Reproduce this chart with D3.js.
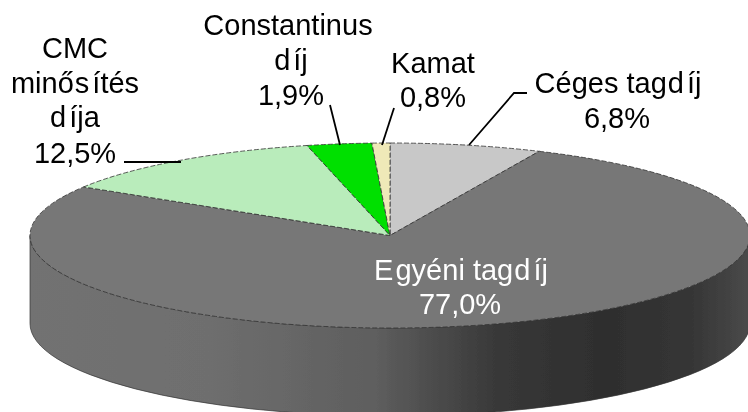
<!DOCTYPE html>
<html>
<head>
<meta charset="utf-8">
<script src="https://d3js.org/d3.v7.min.js"></script>
<style>
  html, body { margin: 0; padding: 0; background: #fff; }
  text { font-family: "Liberation Sans", Arial, sans-serif; font-size: 29px; }
</style>
</head>
<body>
<div id="chart"></div>
<script>
var categories = ['Céges tagdíj', 'Egyéni tagdíj', 'CMC minősítés díja', 'Constantinus díj', 'Kamat']
// slice sizes as drawn; the green one is wider in the picture than its 1,9% label
var values = [6.8, 77.0, 12.5, 2.9, 0.8]
var colors = ['#c8c8c8', '#777777', '#b9ecbb', '#00e000', '#efe9b8']

// text lines: label, x, y, fill, per-letter dx (the original has uneven spacing)
var labelLines = [
  ['CMC', 75, 58], ['minősítés', 75, 93, null, '0 0 0 0 1 3'], ['díja', 75, 127, null, '0 3'], ['12,5%', 75, 163],
  ['Constantinus', 288, 35], ['díj', 291, 70, null, '0 3'], ['1,9%', 291, 105],
  ['Kamat', 433, 73], ['0,8%', 433, 107],
  ['Céges tagdíj', 618, 93, null, '0 0 0 0 0 0 0 0 0 1 3'], ['6,8%', 617, 128],
  ['Egyéni tagdíj', 461, 280, '#fff', '0 2 0 0 0 0 0 0 0 0 1 3'], ['77,0%', 460, 314, '#fff']
]
var leaders = [
  [[124, 162], [181, 162]],
  [[330, 105], [340, 145]],
  [[394, 108], [382, 145]],
  [[527, 93], [514, 93], [469, 145]]
]
var sideStops = [[0, '#727272'], [0.25, '#6e6e6e'], [0.48, '#5e5e5e'], [0.65, '#383838'], [0.8, '#2e2e2e'], [0.92, '#363636'], [1, '#4a4a4a']]

var width = 748
var height = 412
var cx = 390, cy = 235.5
var rx = 360, ry = 92.5
var depth = 88
var k = ry / rx

var svg = d3.select('#chart')
  .append('svg')
  .attr('width', width)
  .attr('height', height)
  .style('display', 'block')

var defs = svg.append('defs')

// the reference is a soft, upscaled bitmap
defs.append('filter')
  .attr('id', 'soft')
  .append('feGaussianBlur')
  .attr('stdDeviation', 0.45)

var grad = defs.append('linearGradient')
  .attr('id', 'side')
  .attr('gradientUnits', 'userSpaceOnUse')
  .attr('x1', -rx).attr('x2', rx).attr('y1', 0).attr('y2', 0)
grad.selectAll('stop')
  .data(sideStops)
  .enter()
  .append('stop')
  .attr('offset', function (d) { return d[0] })
  .attr('stop-color', function (d) { return d[1] })

var root = svg.append('g').attr('filter', 'url(#soft)')

var g = root.append('g')
  .attr('transform', 'translate(' + cx + ',' + cy + ')scale(1,' + k + ')')

// side wall
var wall = d3.path()
wall.arc(0, 0, rx, 0, Math.PI)
wall.lineTo(-rx, depth / k)
wall.arc(0, depth / k, rx, Math.PI, 0, true)
wall.closePath()
g.append('path')
  .attr('d', wall.toString())
  .attr('fill', 'url(#side)')
  .attr('stroke', '#333')
  .attr('stroke-width', 0.7)
  .attr('vector-effect', 'non-scaling-stroke')

// top face
var pie = d3.pie().sort(null)
var arc = d3.arc().innerRadius(0).outerRadius(rx)
g.selectAll('path.slice')
  .data(pie(values))
  .enter()
  .append('path')
  .attr('class', 'slice')
  .attr('d', arc)
  .attr('fill', function (d, i) { return colors[i] })
  .attr('stroke', '#333')
  .attr('stroke-width', 0.8)
  .attr('stroke-dasharray', '5 2')
  .attr('vector-effect', 'non-scaling-stroke')

var line = d3.line()
root.selectAll('path.leader')
  .data(leaders)
  .enter()
  .append('path')
  .attr('class', 'leader')
  .attr('d', line)
  .attr('fill', 'none')
  .attr('stroke', '#000')
  .attr('stroke-width', 1.8)

root.selectAll('text')
  .data(labelLines)
  .enter()
  .append('text')
  .attr('x', function (d) { return d[1] })
  .attr('y', function (d) { return d[2] })
  .attr('dx', function (d) { return d[4] || null })
  .attr('text-anchor', 'middle')
  .attr('fill', function (d) { return d[3] || '#000' })
  .text(function (d) { return d[0] })
</script>
</body>
</html>
